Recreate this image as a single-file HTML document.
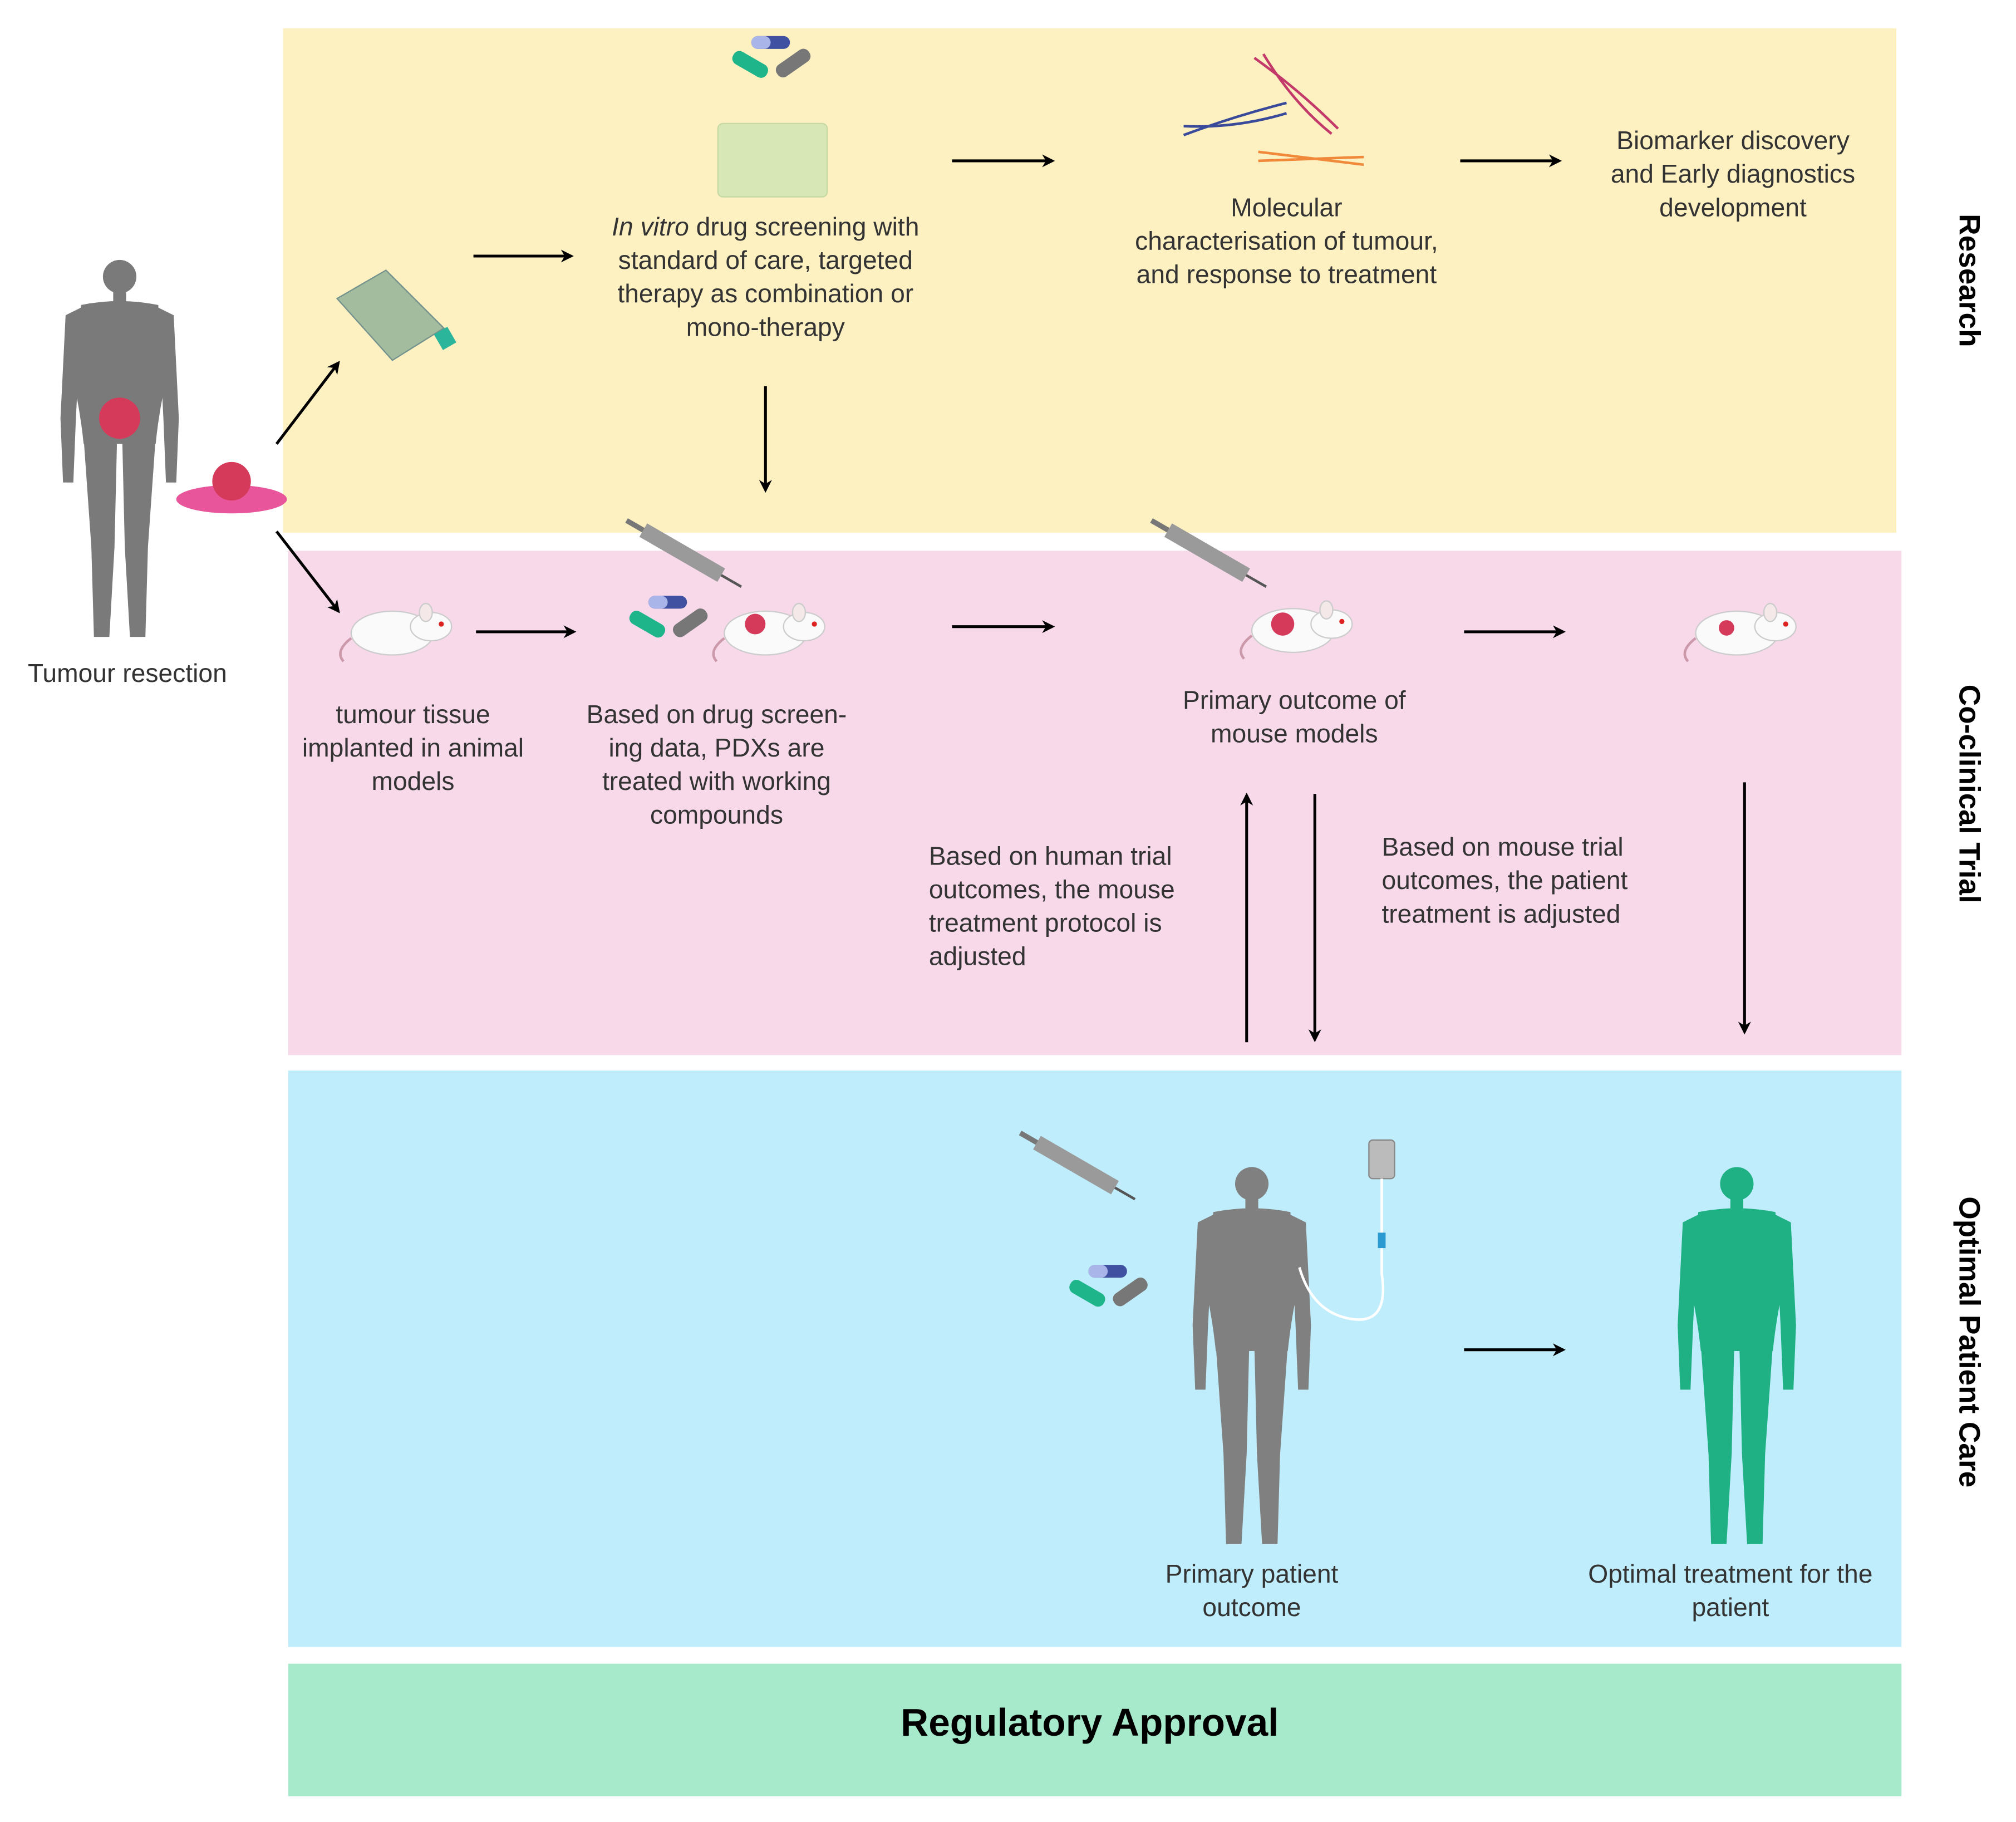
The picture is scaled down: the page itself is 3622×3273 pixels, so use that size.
<!DOCTYPE html>
<html><head><meta charset="utf-8"><style>
html,body{margin:0;padding:0;background:#fff}
svg{display:block}
text{font-family:"Liberation Sans",sans-serif;fill:#333}
</style></head><body>
<svg width="3622" height="3273" viewBox="0 0 1567 1416" xmlns="http://www.w3.org/2000/svg">
<defs>
<marker id="ah" markerWidth="10" markerHeight="10" refX="8" refY="5" orient="auto" markerUnits="userSpaceOnUse">
<path d="M0,0 L10,5 L0,10 L3,5 z" fill="#000"/></marker>
<g id="human">
<circle cx="0" cy="-130" r="13"/>
<rect x="-5" y="-118" width="10" height="10"/>
<path d="M-30,-108 Q0,-114 30,-108 L34,-40 Q30,-20 28,0 L-28,0 Q-30,-20 -34,-40 Z"/>
<path d="M-30,-106 L-42,-100 L-46,-20 L-44,30 L-36,30 L-34,-20 L-32,-60 Z"/>
<path d="M30,-106 L42,-100 L46,-20 L44,30 L36,30 L34,-20 L32,-60 Z"/>
<path d="M-28,-5 L-2,-5 L-4,80 L-8,150 L-20,150 L-22,80 Z"/>
<path d="M28,-5 L2,-5 L4,80 L8,150 L20,150 L22,80 Z"/>
</g>
<g id="mouse">
<ellipse cx="0" cy="0" rx="32" ry="17" fill="#fafafa" stroke="#ccc"/>
<ellipse cx="30" cy="-5" rx="16" ry="11" fill="#fafafa" stroke="#ccc"/>
<ellipse cx="26" cy="-16" rx="5" ry="7" fill="#f4e8e8" stroke="#ccc"/>
<circle cx="38" cy="-7" r="2" fill="#d22"/>
<path d="M-32,4 Q-45,14 -38,22" stroke="#c9a" fill="none" stroke-width="2"/>
</g>
<g id="syringe">
<rect x="0" y="-6" width="70" height="12" fill="#9a9a9a" transform="rotate(30)"/>
<rect x="-15" y="-2" width="15" height="4" fill="#777" transform="rotate(30)"/>
<rect x="70" y="-1" width="18" height="2" fill="#555" transform="rotate(30)"/>
</g>
<g id="pills">
<rect x="14" y="-2" width="30" height="10" rx="5" fill="#3f51a0"/><rect x="14" y="-2" width="15" height="10" rx="5" fill="#a9b4e8"/>
<rect x="-2" y="14" width="30" height="11" rx="5" fill="#1fb58a" transform="rotate(30 12 20)"/>
<rect x="32" y="14" width="30" height="11" rx="5" fill="#777" transform="rotate(-35 46 20)"/>
</g>
</defs>

<rect x="220" y="22" width="1254" height="392" fill="#fdf0c1"/>
<rect x="224" y="428" width="1254" height="392" fill="#f7d9ea"/>
<rect x="224" y="832" width="1254" height="448" fill="#bfedfb"/>
<rect x="224" y="1293" width="1254" height="103" fill="#a6eacb"/>
<text x="847" y="1349" font-size="30" font-weight="bold" text-anchor="middle" style="fill:#000">Regulatory Approval</text>

<g font-size="23" font-weight="bold">
<text transform="translate(1523,218) rotate(90)" text-anchor="middle" style="fill:#000">Research</text>
<text transform="translate(1523,617) rotate(90)" text-anchor="middle" style="fill:#000">Co-clinical Trial</text>
<text transform="translate(1523,1043) rotate(90)" text-anchor="middle" style="fill:#000">Optimal Patient Care</text>
</g>

<g fill="#7a7a7a" transform="translate(93,345)"><use href="#human"/></g>
<circle cx="93" cy="325" r="16" fill="#d63a5a"/>
<ellipse cx="180" cy="388" rx="43" ry="11" fill="#e8559a"/>
<circle cx="180" cy="374" r="15" fill="#d63a5a"/>
<text x="99" y="530" font-size="20" text-anchor="middle">Tumour resection</text>

<path d="M262,232 L300,210 L345,255 L305,280 Z" fill="#9ab79a" stroke="#688" opacity="0.9"/>
<rect x="340" y="256" width="12" height="14" fill="#2bb59a" transform="rotate(-30 346 263)"/>

<g transform="translate(570,30)"><use href="#pills"/></g>
<rect x="558" y="96" width="85" height="57" rx="4" fill="#d7e8b6" stroke="#c6d9a4"/>

<g stroke-width="2" fill="none">
<path d="M920,105 Q960,90 1000,80" stroke="#3a4a9a"/><path d="M920,98 Q960,100 1000,88" stroke="#3a4a9a"/>
<path d="M975,45 Q1010,70 1040,100" stroke="#c33a6a"/><path d="M982,42 Q1005,80 1035,104" stroke="#c33a6a"/>
<path d="M978,125 L1060,122" stroke="#f08a3a"/><path d="M978,118 L1060,128" stroke="#f08a3a"/>
</g>

<g font-size="20" text-anchor="middle">
<text x="595" y="183"><tspan font-style="italic">In vitro</tspan> drug screening with</text>
<text x="595" y="209">standard of care, targeted</text>
<text x="595" y="235">therapy as combination or</text>
<text x="595" y="261">mono-therapy</text>
<text x="1000" y="168">Molecular</text>
<text x="1000" y="194">characterisation of tumour,</text>
<text x="1000" y="220">and response to treatment</text>
<text x="1347" y="116">Biomarker discovery</text>
<text x="1347" y="142">and Early diagnostics</text>
<text x="1347" y="168">development</text>
<text x="321" y="562">tumour tissue</text>
<text x="321" y="588">implanted in animal</text>
<text x="321" y="614">models</text>
<text x="557" y="562">Based on drug screen-</text>
<text x="557" y="588">ing data, PDXs are</text>
<text x="557" y="614">treated with working</text>
<text x="557" y="640">compounds</text>
<text x="1006" y="551">Primary outcome of</text>
<text x="1006" y="577">mouse models</text>
<text x="973" y="1230">Primary patient</text>
<text x="973" y="1256">outcome</text>
<text x="1345" y="1230">Optimal treatment for the</text>
<text x="1345" y="1256">patient</text>
</g>
<g font-size="20">
<text x="722" y="672">Based on human trial</text>
<text x="722" y="698">outcomes, the mouse</text>
<text x="722" y="724">treatment protocol is</text>
<text x="722" y="750">adjusted</text>
<text x="1074" y="665">Based on mouse trial</text>
<text x="1074" y="691">outcomes, the patient</text>
<text x="1074" y="717">treatment is adjusted</text>
</g>

<g transform="translate(305,492)"><use href="#mouse"/></g>
<g transform="translate(595,492)"><use href="#mouse"/></g>
<circle cx="587" cy="485" r="8" fill="#d63a5a"/>
<g transform="translate(490,465)"><use href="#pills"/></g>
<g transform="translate(500,412)"><use href="#syringe"/></g>
<g transform="translate(1005,490)"><use href="#mouse"/></g>
<circle cx="997" cy="485" r="9" fill="#d63a5a"/>
<g transform="translate(908,412)"><use href="#syringe"/></g>
<g transform="translate(1350,492)"><use href="#mouse"/></g>
<circle cx="1342" cy="488" r="6" fill="#d63a5a"/>

<g fill="#808080" transform="translate(973,1050)"><use href="#human"/></g>
<g fill="#1fb083" transform="translate(1350,1050)"><use href="#human"/></g>
<g transform="translate(806,888)"><use href="#syringe"/></g>
<g transform="translate(832,985)"><use href="#pills"/></g>
<rect x="1064" y="886" width="20" height="30" rx="3" fill="#bbb" stroke="#888"/>
<path d="M1074,916 L1074,990 Q1080,1030 1050,1025 Q1020,1020 1010,985" stroke="#fff" stroke-width="2" fill="none"/>
<rect x="1071" y="958" width="6" height="12" fill="#2a9ad0"/>

<g stroke="#000" stroke-width="2.2" marker-end="url(#ah)">
<line x1="368" y1="199" x2="444" y2="199"/>
<line x1="740" y1="125" x2="818" y2="125"/>
<line x1="1135" y1="125" x2="1212" y2="125"/>
<line x1="595" y1="300" x2="595" y2="381"/>
<line x1="215" y1="345" x2="263" y2="282"/>
<line x1="215" y1="413" x2="263" y2="475"/>
<line x1="370" y1="491" x2="446" y2="491"/>
<line x1="740" y1="487" x2="818" y2="487"/>
<line x1="1138" y1="491" x2="1215" y2="491"/>
<line x1="969" y1="810" x2="969" y2="618"/>
<line x1="1022" y1="617" x2="1022" y2="808"/>
<line x1="1356" y1="608" x2="1356" y2="802"/>
<line x1="1138" y1="1049" x2="1215" y2="1049"/>
</g>
</svg>
</body></html>
